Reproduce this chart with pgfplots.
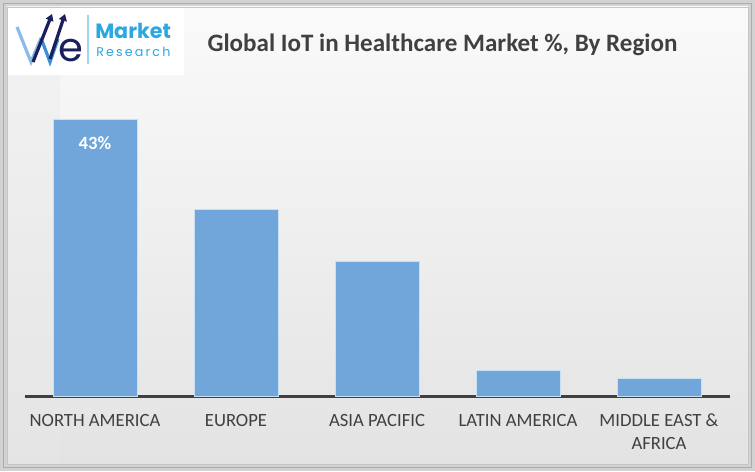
\documentclass[border=0pt]{standalone}
\usepackage{pgfplots}
\pgfplotsset{compat=1.18}
\usepackage{fontspec}
\setmainfont{Carlito}
\newfontfamily\poppins{Poppins}
\usetikzlibrary{arrows.meta}
\definecolor{barblue}{HTML}{70A6D9}
\definecolor{baredge}{HTML}{C9DFF2}
\definecolor{txtgray}{HTML}{404040}
\definecolor{logoblue}{HTML}{2CA8E0}
\definecolor{logonavy}{HTML}{1B1F5C}
\definecolor{logolight}{HTML}{9FD3F0}
\definecolor{wblue}{HTML}{3A8FD8}
\begin{document}
\begin{tikzpicture}[x=0.75pt,y=0.75pt]
% frame
\fill[gray!35] (0,0) rectangle (755,471);
\draw[gray!65,line width=1.2pt] (3.5,3.5) rectangle (751.5,467.5);
\shade[top color=gray!4, bottom color=gray!22] (7,7) rectangle (748,464);
\shade[left color=gray!18, right color=gray!18, middle color=gray!18, opacity=0.35] (7,7) rectangle (60,464);
\draw[gray!45,line width=0.6pt] (7,7) rectangle (748,464);
% logo
\fill[white] (8,396) rectangle (184,463);
\draw[wblue!60,line width=2.4pt] (17,444) -- (31,409) -- (41,433);
\draw[wblue,line width=2.4pt] (41,433) -- (50,409) -- (58,432);
\draw[logonavy,line width=2.4pt,-{Triangle[length=5pt,width=6pt]}] (33,409) -- (52,457);
\draw[logonavy,line width=2.4pt,-{Triangle[length=5pt,width=6pt]}] (50,412) -- (65,457);
\node[anchor=base,text=logonavy,inner sep=0pt] at (71,409) {\poppins\fontsize{30pt}{30pt}\selectfont e};
\draw[logolight,line width=1pt] (88,407) -- (88,456);
\node[anchor=base west,text=logoblue,inner sep=0pt] at (95,432) {\poppins\bfseries\fontsize{15.5pt}{16pt}\selectfont Market};
\node[anchor=base west,text=logoblue,inner sep=0pt] at (96,414) {\poppins\addfontfeature{LetterSpace=17}\fontsize{9.5pt}{10pt}\selectfont Research};
% title
\node[text=txtgray,font=\bfseries\fontsize{18.8pt}{22pt}\selectfont] at (442.5,426) {Global IoT in Healthcare Market \%, By Region};
\coordinate (A) at (24.5,75);
\begin{axis}[
  at={(A)}, anchor=south west,
  scale only axis, width=528.75pt, height=222pt,
  xmin=-0.5, xmax=4.5, ymin=0, ymax=46.11,
  enlargelimits=false, clip=false,
  axis x line*=bottom, axis y line=none,
  x axis line style={line width=2.25pt, color=txtgray},
  xtick={0,1,2,3,4},
  xticklabels={NORTH AMERICA, EUROPE, ASIA PACIFIC, LATIN AMERICA, {MIDDLE EAST \&\\AFRICA}},
  major tick length=0pt, ytick=\empty,
  xticklabel style={font=\fontsize{14pt}{16.8pt}\selectfont, text=txtgray, align=center, yshift=-10pt},
  ybar, bar width=63pt,
]
\addplot[fill=barblue, draw=baredge, line width=0.75pt] coordinates {(0,43) (1,29) (2,21) (3,3.9) (4,2.8)};
\node[text=white, font=\bfseries\fontsize{14pt}{16pt}\selectfont] at (axis cs:0,43) [yshift=-17.25pt] {43\%};
\end{axis}
\pgfresetboundingbox
\path[use as bounding box] (0,0) rectangle (755,471);
\end{tikzpicture}
\end{document}
